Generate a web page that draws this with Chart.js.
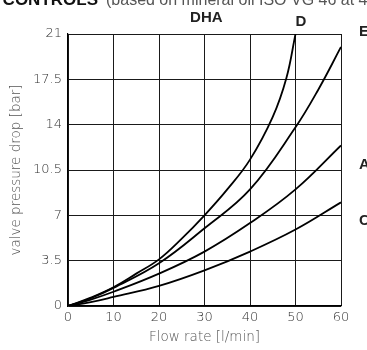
<!DOCTYPE html>
<html>
<head>
<meta charset="utf-8">
<script src="https://cdn.jsdelivr.net/npm/chart.js@4.4.1/dist/chart.umd.min.js"></script>
<style>
  html, body { margin: 0; padding: 0; background: #fff; }
  #wrap { width: 367px; height: 350px; position: relative; }
</style>
</head>
<body>
<div id="wrap"><canvas id="chart" width="367" height="350"></canvas></div>
<script>
// flow rate [l/min] / pressure drop [bar]
const flowD = [0, 5, 10, 15, 20, 25, 30, 35, 40, 45, 48, 50];
const dropD = [0, 0.65, 1.45, 2.5, 3.6, 5.2, 7.0, 9.0, 11.3, 14.6, 17.6, 21];
const flowE = [0, 5, 10, 20, 30, 40, 50, 55, 60];
const dropE = [0, 0.6, 1.4, 3.3, 6.0, 9.0, 13.8, 16.7, 20.0];
const flowA = [0, 5, 10, 20, 30, 40, 50, 60];
const dropA = [0, 0.5, 1.1, 2.5, 4.2, 6.4, 9.0, 12.4];
const flowC = [0, 5, 10, 20, 30, 40, 50, 60];
const dropC = [0, 0.3, 0.7, 1.55, 2.75, 4.2, 5.9, 8.0];

const xTicks = [0, 10, 20, 30, 40, 50, 60];
const yTicks = [0, 3.5, 7, 10.5, 14, 17.5, 21];

const tickFont = { family: 'DejaVu Sans', size: 13, weight: '300' };
const titleFont = { family: 'DejaVu Sans', size: 13.5, weight: '300' };
const textColor = '#333';

function toPoints(xs, ys) {
    return xs.map((x, i) => ({ x: x, y: ys[i] }));
}

function curve(label, xs, ys) {
    return {
        label: label,
        data: toPoints(xs, ys),
        borderColor: '#000',
        borderWidth: 1.8,
        pointRadius: 0,
        fill: false,
        tension: 0.4
    };
}

// labels next to the curves and the header text
const textPlugin = {
    id: 'curveText',
    afterDraw(chart) {
        const ctx = chart.ctx;
        const area = chart.chartArea;
        const xs = chart.scales.x;
        const ys = chart.scales.y;
        ctx.save();
        ctx.fillStyle = '#222';
        ctx.textBaseline = 'middle';
        ctx.textAlign = 'center';
        ctx.font = 'bold 15px "Liberation Sans", Arial, sans-serif';
        ctx.fillText('DHA', xs.getPixelForValue(30.4), area.top - 16);
        ctx.fillText('D', xs.getPixelForValue(51.2), area.top - 12);
        ctx.textAlign = 'left';
        ctx.fillText('E', area.right + 18, ys.getPixelForValue(21.2));
        ctx.fillText('A', area.right + 18, ys.getPixelForValue(10.9));
        ctx.fillText('C', area.right + 18, ys.getPixelForValue(6.6));

        // header, cut by the top edge
        ctx.textBaseline = 'alphabetic';
        ctx.textAlign = 'right';
        ctx.font = 'bold 17px "Liberation Sans", Arial, sans-serif';
        ctx.fillStyle = '#111';
        ctx.fillText('CONTROLS', 98, 5);
        ctx.textAlign = 'left';
        ctx.font = '16px "Liberation Sans", Arial, sans-serif';
        ctx.fillStyle = '#555';
        ctx.fillText('(based on mineral oil ISO VG 46 at 40 °C)', 106, 5);
        ctx.restore();
    }
};

const ctx = document.getElementById('chart').getContext('2d');
const chart = new Chart(ctx, {
    type: 'line',
    data: {
        datasets: [
            curve('D', flowD, dropD),
            curve('E', flowE, dropE),
            curve('A', flowA, dropA),
            curve('C', flowC, dropC)
        ]
    },
    options: {
        responsive: false,
        animation: false,
        layout: { padding: { left: 0, right: 26, top: 34, bottom: 0 } },
        plugins: {
            legend: { display: false },
            tooltip: { enabled: false }
        },
        scales: {
            x: {
                type: 'linear',
                min: 0,
                max: 60,
                afterBuildTicks: (s) => { s.ticks = xTicks.map(v => ({ value: v })); },
                afterFit: (s) => { s.height = 44; },
                grid: { color: '#1a1a1a', lineWidth: 1, drawTicks: false },
                border: { color: '#000', width: 1.2 },
                ticks: { font: tickFont, color: textColor, padding: 4, maxRotation: 0 },
                title: {
                    display: true,
                    text: 'Flow rate [l/min]',
                    font: titleFont,
                    color: '#555',
                    padding: { top: 0, bottom: 4 }
                }
            },
            y: {
                type: 'linear',
                min: 0,
                max: 21,
                afterBuildTicks: (s) => { s.ticks = yTicks.map(v => ({ value: v })); },
                afterFit: (s) => { s.width = 68; },
                grid: { color: '#1a1a1a', lineWidth: 1, drawTicks: false },
                border: { color: '#000', width: 1.2 },
                ticks: { font: tickFont, color: textColor, padding: 6 },
                title: {
                    display: true,
                    text: 'valve pressure drop [bar]',
                    font: titleFont,
                    color: '#555',
                    padding: { top: 8, bottom: 0 }
                }
            }
        }
    },
    plugins: [textPlugin]
});
</script>
</body>
</html>
